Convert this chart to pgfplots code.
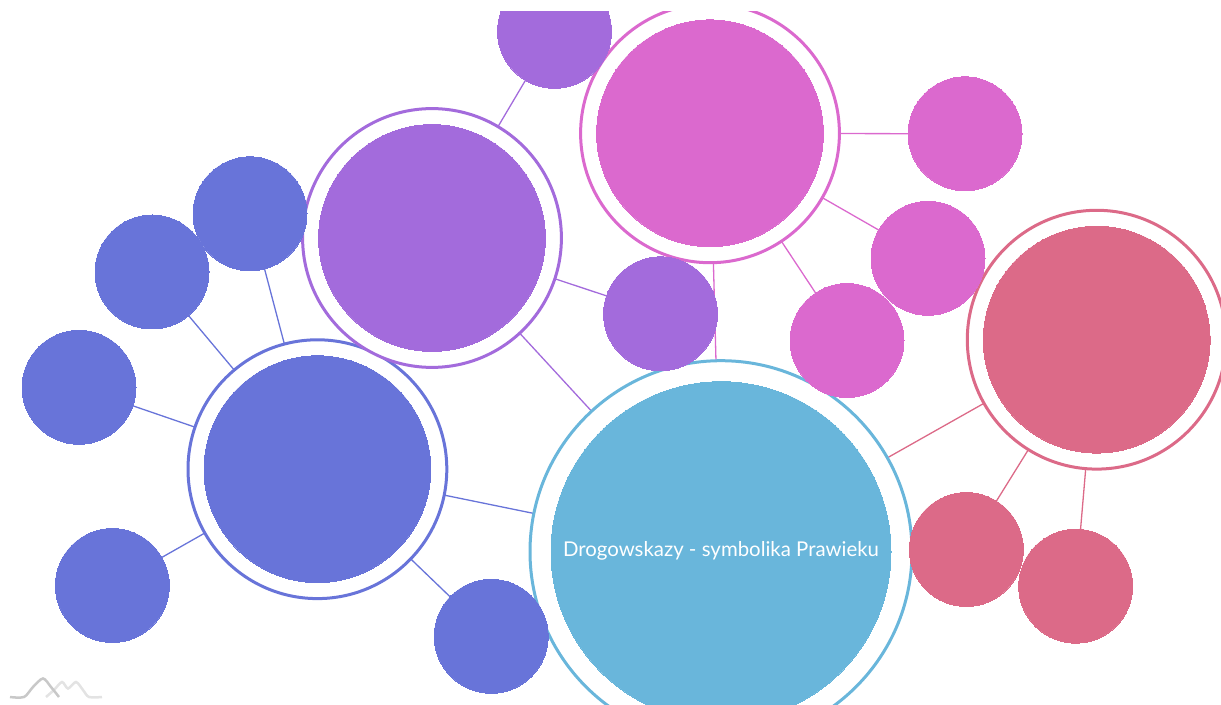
\documentclass[border=0pt]{standalone}
\usepackage{fontspec}
\setmainfont{Lato}
\usepackage{pgfplots}
\pgfplotsset{compat=1.18}
\definecolor{cBlue}{RGB}{104,116,217}
\definecolor{cPurple}{RGB}{163,107,220}
\definecolor{cMagenta}{RGB}{219,105,206}
\definecolor{cRed}{RGB}{220,106,136}
\definecolor{cCyan}{RGB}{105,182,219}
\definecolor{logoDark}{RGB}{200,200,200}
\definecolor{logoLight}{RGB}{227,227,227}
\begin{document}
\begin{tikzpicture}
\begin{axis}[
  scale only axis, width=610.5pt, height=346.5pt,
  xmin=0, xmax=1221, ymin=12, ymax=705, y dir=reverse,
  hide axis, clip marker paths=true,
  every axis plot/.append style={forget plot},
]
% ---- links ----
\addplot[cBlue, line width=0.65pt] coordinates {(317.4,469.2) (250,213.8)};
\addplot[cBlue, line width=0.65pt] coordinates {(317.4,469.2) (152,272)};
\addplot[cBlue, line width=0.65pt] coordinates {(317.4,469.2) (79,387.3)};
\addplot[cBlue, line width=0.65pt] coordinates {(317.4,469.2) (112.3,585.5)};
\addplot[cBlue, line width=0.65pt] coordinates {(317.4,469.2) (491.2,636.3)};
\addplot[cBlue, line width=0.65pt] coordinates {(317.4,469.2) (721,551.7)};
\addplot[cPurple, line width=0.65pt] coordinates {(432,238) (554.5,31.3)};
\addplot[cPurple, line width=0.65pt] coordinates {(432,238) (660.5,313.8)};
\addplot[cPurple, line width=0.65pt] coordinates {(432,238) (721,551.7)};
\addplot[cMagenta, line width=0.65pt] coordinates {(710,133.3) (965,133.8)};
\addplot[cMagenta, line width=0.65pt] coordinates {(710,133.3) (928,258.3)};
\addplot[cMagenta, line width=0.65pt] coordinates {(710,133.3) (847,340.5)};
\addplot[cMagenta, line width=0.65pt] coordinates {(710,133.3) (721,551.7)};
\addplot[cRed, line width=0.65pt] coordinates {(1096.7,339.7) (966.3,549.5)};
\addplot[cRed, line width=0.65pt] coordinates {(1096.7,339.7) (1075.7,586.2)};
\addplot[cRed, line width=0.65pt] coordinates {(1096.7,339.7) (721,551.7)};
% ---- central node ----
\addplot[cCyan, only marks, mark=*, mark size=95.5pt, mark options={draw=cCyan, fill=white, line width=1.5pt}] coordinates {(721,551.7)};
\addplot[cCyan, only marks, mark=*, mark size=85pt, line width=0pt, mark options={draw=cCyan, fill=cCyan, line width=0pt}] coordinates {(721,551.7)};
% ---- group main rings ----
\addplot[cBlue, only marks, mark=*, mark size=64.7pt, mark options={draw=cBlue, fill=white, line width=1.5pt}] coordinates {(317.4,469.2)};
\addplot[cPurple, only marks, mark=*, mark size=64.7pt, mark options={draw=cPurple, fill=white, line width=1.5pt}] coordinates {(432,238)};
\addplot[cMagenta, only marks, mark=*, mark size=64.7pt, mark options={draw=cMagenta, fill=white, line width=1.5pt}] coordinates {(710,133.3)};
\addplot[cRed, only marks, mark=*, mark size=64.7pt, mark options={draw=cRed, fill=white, line width=1.5pt}] coordinates {(1096.7,339.7)};
% ---- group main fills ----
\addplot[cBlue, only marks, mark=*, mark size=56.7pt, line width=0pt, mark options={draw=cBlue, fill=cBlue, line width=0pt}] coordinates {(317.4,469.2)};
\addplot[cPurple, only marks, mark=*, mark size=56.7pt, line width=0pt, mark options={draw=cPurple, fill=cPurple, line width=0pt}] coordinates {(432,238)};
\addplot[cMagenta, only marks, mark=*, mark size=56.7pt, line width=0pt, mark options={draw=cMagenta, fill=cMagenta, line width=0pt}] coordinates {(710,133.3)};
\addplot[cRed, only marks, mark=*, mark size=56.7pt, line width=0pt, mark options={draw=cRed, fill=cRed, line width=0pt}] coordinates {(1096.7,339.7)};
% ---- children ----
\addplot[cBlue, only marks, mark=*, mark size=28.5pt, line width=0pt, mark options={draw=cBlue, fill=cBlue, line width=0pt}] coordinates {(250,213.8) (152,272) (79,387.3) (112.3,585.5) (491.2,636.3)};
\addplot[cPurple, only marks, mark=*, mark size=28.5pt, line width=0pt, mark options={draw=cPurple, fill=cPurple, line width=0pt}] coordinates {(554.5,31.3) (660.5,313.8)};
\addplot[cMagenta, only marks, mark=*, mark size=28.5pt, line width=0pt, mark options={draw=cMagenta, fill=cMagenta, line width=0pt}] coordinates {(965,133.8) (928,258.3) (847,340.5)};
\addplot[cRed, only marks, mark=*, mark size=28.5pt, line width=0pt, mark options={draw=cRed, fill=cRed, line width=0pt}] coordinates {(966.3,549.5) (1075.7,586.2)};
% ---- label ----
\node[text=white, font=\fontsize{10.2}{12}\selectfont, inner sep=0pt] at (axis cs:721,550.5) {Drogowskazy - symbolika Prawieku};
% ---- logo ----
\addplot[logoLight, line width=1.25pt, smooth, tension=0.5] coordinates {(46,697) (54,690) (62,682) (68,688.5) (76,682) (83,690) (89,697) (102,697)};
\addplot[logoDark, line width=1.25pt, smooth, tension=0.5] coordinates {(10,697) (24,697) (33,687) (43,678.5) (51,687) (59,697)};
\coordinate (bl) at (axis cs:0,705);
\coordinate (tr) at (axis cs:1221,12);
\end{axis}
\pgfresetboundingbox
\path (bl) rectangle ([yshift=6pt]tr);
\end{tikzpicture}
\end{document}
